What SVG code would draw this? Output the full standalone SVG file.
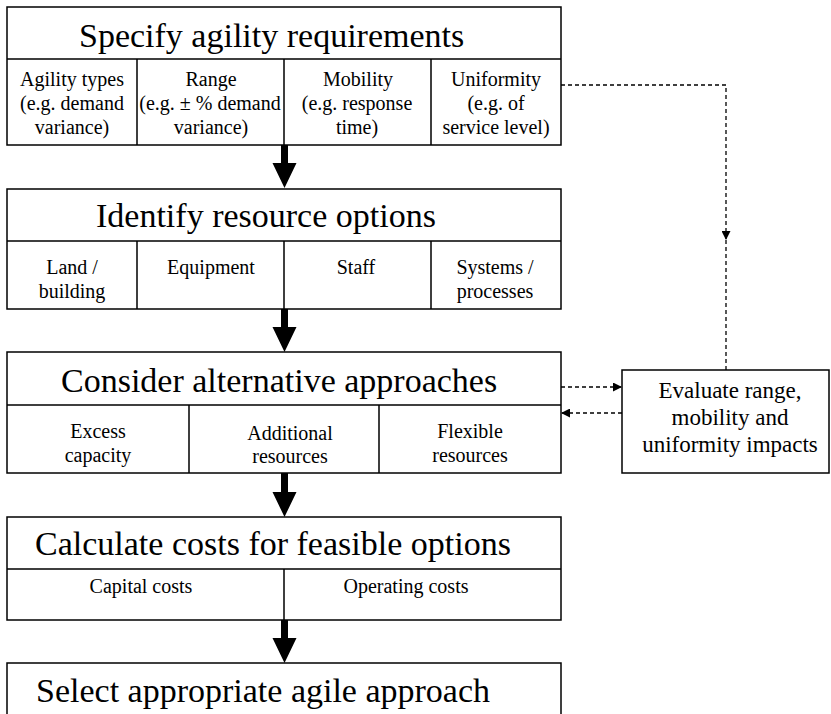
<svg xmlns="http://www.w3.org/2000/svg" width="831" height="714" viewBox="0 0 831 714">
  <style>
    .box { fill: #fff; stroke: #000; stroke-width: 1.5; }
    .div { fill: none; stroke: #000; stroke-width: 1.5; }
    .title { font-family: "Liberation Serif", "Times New Roman", serif; font-size: 34px; fill: #000; }
    .cell { font-family: "Liberation Serif", "Times New Roman", serif; font-size: 20px; fill: #000; text-anchor: middle; }
    .eval { font-family: "Liberation Serif", "Times New Roman", serif; font-size: 23px; fill: #000; text-anchor: middle; }
    .flow { fill: #000; stroke: none; }
    .dash { fill: none; stroke: #000; stroke-width: 1.3; stroke-dasharray: 4 3; }
  </style>
  <defs>
    <marker id="tip" viewBox="0 0 10 10" refX="10" refY="5" markerWidth="9" markerHeight="9" markerUnits="userSpaceOnUse" orient="auto">
      <path d="M0,0 L10,5 L0,10 Z" fill="#000"/>
    </marker>
  </defs>
  <rect x="0" y="0" width="831" height="714" fill="#fff"/>

  <!-- Step 1 -->
  <g id="specify">
    <rect class="box" x="7" y="7" width="554" height="138"/>
    <path class="div" d="M7,59 H561 M137,59 V145 M284,59 V145 M431,59 V145"/>
    <text class="title" x="79" y="47">Specify agility requirements</text>
    <text class="cell" x="72" y="86">Agility types</text>
    <text class="cell" x="72" y="110">(e.g. demand</text>
    <text class="cell" x="72" y="134">variance)</text>
    <text class="cell" x="211" y="86">Range</text>
    <text class="cell" x="210" y="110">(e.g. ± % demand</text>
    <text class="cell" x="211" y="134">variance)</text>
    <text class="cell" x="358" y="86">Mobility</text>
    <text class="cell" x="357" y="110">(e.g. response</text>
    <text class="cell" x="357" y="134">time)</text>
    <text class="cell" x="496" y="86">Uniformity</text>
    <text class="cell" x="496" y="110">(e.g. of</text>
    <text class="cell" x="496" y="134">service level)</text>
  </g>

  <!-- Step 2 -->
  <g id="identify">
    <rect class="box" x="7" y="189" width="554" height="120"/>
    <path class="div" d="M7,241 H561 M137,241 V309 M284,241 V309 M431,241 V309"/>
    <text class="title" x="96" y="227">Identify resource options</text>
    <text class="cell" x="72" y="274">Land /</text>
    <text class="cell" x="72" y="298">building</text>
    <text class="cell" x="211" y="274">Equipment</text>
    <text class="cell" x="356" y="274">Staff</text>
    <text class="cell" x="495" y="274">Systems /</text>
    <text class="cell" x="495" y="298">processes</text>
  </g>

  <!-- Step 3 -->
  <g id="consider">
    <rect class="box" x="7" y="352" width="554" height="121"/>
    <path class="div" d="M7,405 H561 M189,405 V473 M379,405 V473"/>
    <text class="title" x="61" y="392">Consider alternative approaches</text>
    <text class="cell" x="98" y="438">Excess</text>
    <text class="cell" x="98" y="462">capacity</text>
    <text class="cell" x="290" y="440">Additional</text>
    <text class="cell" x="290" y="463">resources</text>
    <text class="cell" x="470" y="438">Flexible</text>
    <text class="cell" x="470" y="462">resources</text>
  </g>

  <!-- Step 4 -->
  <g id="calculate">
    <rect class="box" x="7" y="517" width="554" height="103"/>
    <path class="div" d="M7,569 H561 M284,569 V620"/>
    <text class="title" x="35" y="555">Calculate costs for feasible options</text>
    <text class="cell" x="141" y="593">Capital costs</text>
    <text class="cell" x="406" y="593">Operating costs</text>
  </g>

  <!-- Step 5 (runs off the lower edge) -->
  <g id="select">
    <rect class="box" x="7" y="663" width="554" height="70"/>
    <text class="title" x="36" y="702">Select appropriate agile approach</text>
  </g>

  <!-- Side check -->
  <g id="evaluate">
    <rect class="box" x="622" y="370" width="207" height="103"/>
    <text class="eval" x="730" y="398">Evaluate range,</text>
    <text class="eval" x="730" y="425">mobility and</text>
    <text class="eval" x="730" y="452">uniformity impacts</text>
  </g>

  <!-- Connectors -->
  <g id="connectors">
    <path class="flow" d="M281,145 H288 V163 H296.5 L284.5,188 L272.5,163 H281 Z"/>
    <path class="flow" d="M281,309 H288 V327 H296.5 L284.5,352 L272.5,327 H281 Z"/>
    <path class="flow" d="M281,473 H288 V492 H296.5 L284.5,517 L272.5,492 H281 Z"/>
    <path class="flow" d="M281,620 H288 V638 H296.5 L284.5,663 L272.5,638 H281 Z"/>

    <path class="dash" d="M561,85 H726 V240" marker-end="url(#tip)"/>
    <path class="dash" d="M726,240 V370"/>
    <path class="dash" d="M561,387 H622" marker-end="url(#tip)"/>
    <path class="dash" d="M622,413 H561" marker-end="url(#tip)"/>
  </g>
</svg>
